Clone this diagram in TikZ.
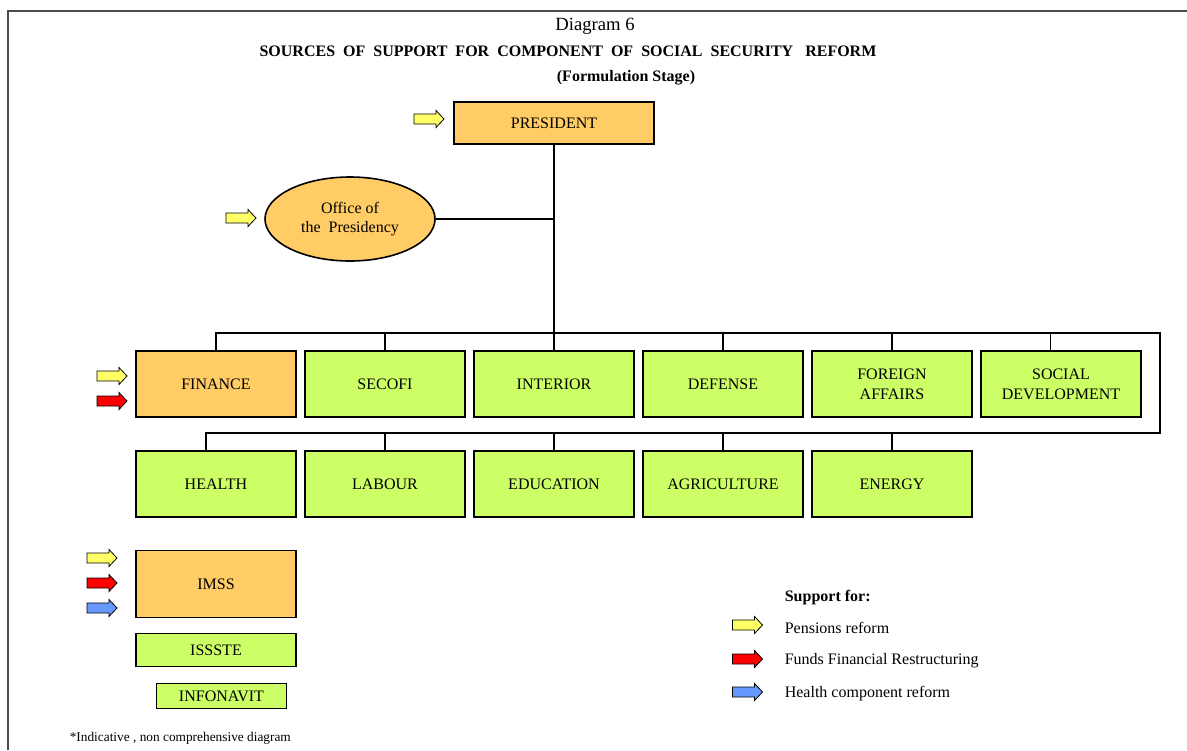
\documentclass[tikz,border=0pt]{standalone}
\usepackage{fontspec}
\setmainfont{Liberation Serif}
\usepackage{tikz}
\usetikzlibrary{shapes}

\definecolor{orng}{RGB}{255,204,102}
\definecolor{grn}{RGB}{204,255,102}
\definecolor{ylw}{RGB}{255,255,102}
\definecolor{rd}{RGB}{255,0,0}
\definecolor{blu}{RGB}{102,153,255}

\begin{document}
\begin{tikzpicture}[x=0.75pt,y=-0.75pt,node distance=126.75pt,line width=1.2pt]
  \tikzstyle{box}=[draw,rectangle,fill=grn,minimum width=120pt,minimum height=49.5pt,
                   align=center,inner sep=1pt,font=\fontsize{12}{15}\selectfont]
  \tikzstyle{txt}=[inner sep=0pt,font=\fontsize{12}{14}\selectfont]
  \tikzset{pics/supp/.style={code={
    \draw[fill=#1,line width=0.6pt] (-15,-5) -- (7,-5) -- (7,-8.5) -- (15,0)
      -- (7,8.5) -- (7,5) -- (-15,5) -- cycle;}}}

  \useasboundingbox (0,0) rectangle (1187,750);
  \draw[black!70,line width=1.4pt] (8,750) -- (8,11) -- (1187,11);

  % titles
  \node[txt,anchor=base,font=\fontsize{14}{16}\selectfont] (diag) at (595,30.5) {Diagram 6};
  \node[txt,anchor=base,font=\bfseries\fontsize{12}{14}\selectfont] (head) at (568,56)
    {SOURCES\ \ OF\ \ SUPPORT\ \ FOR\ \ COMPONENT\ \ OF\ \ SOCIAL\ \ SECURITY\ \ \ REFORM};
  \node[txt,anchor=base,font=\bfseries\fontsize{12}{14}\selectfont] (stage) at (626,81.5)
    {(Formulation Stage)};

  \node[box,fill=orng,minimum width=150pt,minimum height=31.5pt] (pres) at (554,123) {PRESIDENT};
  \node[ellipse,draw,fill=orng,minimum width=127.5pt,minimum height=63pt,inner sep=0pt,
        align=center,font=\fontsize{12}{14}\selectfont] (office) at (350,219)
        {Office of\\the\ \ Presidency};

  \node[box,fill=orng] (fin) at (216,384) {FINANCE};
  \node[box]           (sec)  [right of=fin]  {SECOFI};
  \node[box]           (inte) [right of=sec]  {INTERIOR};
  \node[box]           (def)  [right of=inte] {DEFENSE};
  \node[box]           (for)  [right of=def]  {FOREIGN\\AFFAIRS};
  \node[box]           (soc)  [right of=for]  {SOCIAL\\DEVELOPMENT};

  \node[box] (hea) at (216,484) {HEALTH};
  \node[box] (lab) [right of=hea] {LABOUR};
  \node[box] (edu) [right of=lab] {EDUCATION};
  \node[box] (agr) [right of=edu] {AGRICULTURE};
  \node[box] (ene) [right of=agr] {ENERGY};

  \node[box,fill=orng,minimum height=50pt] (imss) at (216,584) {IMSS};
  \node[box,minimum height=25pt] (isss) at (216,650) {ISSSTE};
  \node[box,minimum width=97.5pt,minimum height=19pt] (info) at (221.5,696) {INFONAVIT};

  % connectors
  \coordinate (rt) at (1160,333);
  \coordinate (rb) at (1160,433);
  \coordinate (st) at ([xshift=-8pt]soc.north);
  \draw (pres) -- (inte);
  \draw (office) -- (office -| pres);
  \draw (fin.north) |- (rt) -- (rb) -| ([xshift=-7.5pt]hea.north);
  \draw (st) -- (st |- rt);
  \foreach \n in {sec,def,for}
    \draw (\n.north) -- (\n.north |- rt);
  \foreach \n in {lab,edu,agr,ene}
    \draw (\n.north) -- (\n.north |- rb);

  % support arrows
  \pic (apres) at (429,119) {supp=ylw};
  \pic (aoff) at (241,218) {supp=ylw};
  \pic (afin1) at (112,376) {supp=ylw};
  \pic (afin2) at (112,401) {supp=rd};
  \pic (aims1) at (102,558) {supp=ylw};
  \pic (aims2) at (102,583) {supp=rd};
  \pic (aims3) at (102,608) {supp=blu};

  % legend
  \node[txt,anchor=base west,font=\bfseries\fontsize{12}{14}\selectfont] (sup) at (784,601) {Support for:};
  \pic (lg1) at (747.5,625) {supp=ylw};
  \pic (lg2) at (747.5,659) {supp=rd};
  \pic (lg3) at (747.5,692) {supp=blu};
  \node[txt,anchor=base west] (pen) at (784,633) {Pensions reform};
  \node[txt,anchor=base west] (fun) at (784,664.5) {Funds Financial Restructuring};
  \node[txt,anchor=base west] (hel) at (784,697) {Health component reform};

  \node[txt,anchor=base west,font=\fontsize{10}{12}\selectfont] (note) at (69,741)
    {*Indicative , non comprehensive diagram};
\end{tikzpicture}
\end{document}
